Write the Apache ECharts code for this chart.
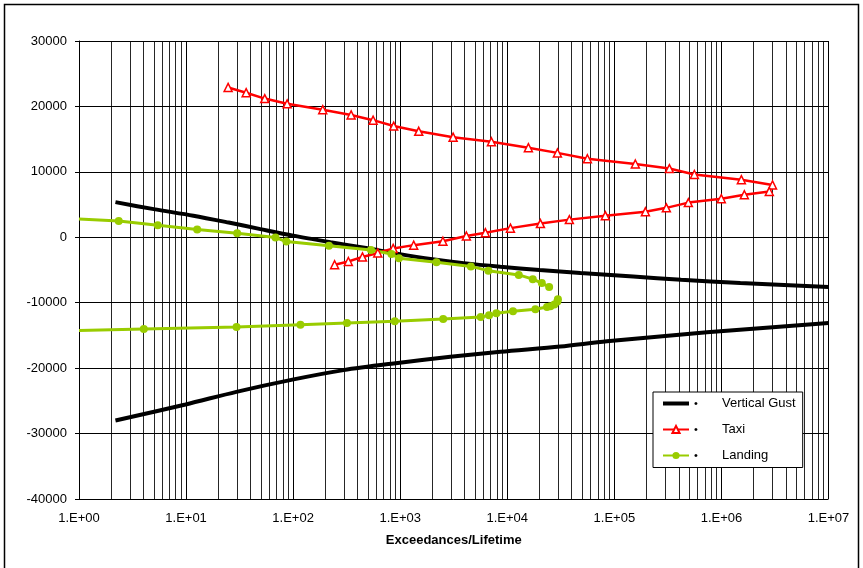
<!DOCTYPE html>
<html>
<head>
<meta charset="utf-8">
<script src="https://cdn.jsdelivr.net/npm/echarts@6/dist/echarts.min.js"></script>
<style>
html,body{margin:0;padding:0;background:#fff;}
#chart{width:863px;height:568px;}
</style>
</head>
<body>
<div id="chart"></div>
<script>
// ---- Data ----
const xTickLabels = ['1.E+00','1.E+01','1.E+02','1.E+03','1.E+04','1.E+05','1.E+06','1.E+07'];
const yTicks = [-40000,-30000,-20000,-10000,0,10000,20000,30000];
const legendNames = ['Vertical Gust','Taxi','Landing'];

const gustUpperX = [2.19, 5.0, 11.7, 25, 49.5, 100, 223, 480, 935, 2000, 3920, 8630, 20000, 48200, 150000, 420000, 1500000, 10000000];
const gustUpperY = [5370, 4300, 3300, 2250, 1250, 250, -750, -1650, -2500, -3350, -3950, -4500, -5000, -5450, -6000, -6500, -7000, -7600];
const gustLowerX = [2.19, 9.89, 29.5, 101, 296, 869, 2940, 8630, 31300, 85300, 733000, 10000000];
const gustLowerY = [-28000, -25550, -23620, -21720, -20300, -19280, -18270, -17500, -16700, -15900, -14530, -13100];

const taxiX = [24.7, 36.4, 54.3, 87.9, 189, 348, 558, 869, 1489, 3119, 7112, 15740, 29380, 55980, 157000, 326400, 558900, 1535000, 3000000,
               2800000, 1637000, 997000, 491000, 306000, 195000, 82400, 38000, 20400, 10700, 6240, 4150, 2505, 1336, 859, 617, 444, 328, 244];
const taxiY = [22900, 22100, 21200, 20400, 19500, 18700, 17900, 17000, 16200, 15300, 14600, 13700, 12900, 12000, 11200, 10500, 9600, 8800, 8000,
               7000, 6500, 5900, 5300, 4500, 3900, 3300, 2700, 2100, 1400, 700, 200, -600, -1200, -1700, -2400, -3000, -3700, -4200];

const landUpperX = [1, 2.35, 5.44, 12.7, 30.0, 68.4, 86.5, 216, 533, 828, 973, 2180, 4570, 6660, 12800, 17300, 21000, 24600];
const landUpperY = [2800, 2500, 1850, 1200, 600, -50, -650, -1300, -1950, -2550, -3200, -3800, -4450, -5100, -5750, -6400, -7000, -7600];
const landLowerX = [29700, 29380, 27540, 25300, 23500, 18300, 11300, 7910, 6760, 5650, 2520, 889, 318, 117, 29.6, 4.03, 1];
const landLowerY = [-9460, -9830, -10290, -10550, -10660, -11010, -11310, -11620, -11930, -12190, -12500, -12850, -13100, -13350, -13700, -14000, -14250];

// ---- Helpers ----
const zip = (xs, ys) => xs.map((x, i) => [x, ys[i]]);
const minorGrid = [];
for (let k = 0; k < 7; k++) for (let m = 2; m <= 9; m++) minorGrid.push({ xAxis: m * Math.pow(10, k) });

const FONT = '"Liberation Sans", Arial, sans-serif';
const RED = '#FF0000', GREEN = '#99CC00';

const chart = echarts.init(document.getElementById('chart'), null, { renderer: 'canvas' });
chart.setOption({
  animation: false,
  backgroundColor: '#fff',
  textStyle: { fontFamily: FONT, color: '#000' },
  grid: { left: 79, right: 34.5, top: 41, bottom: 69, containLabel: false },
  graphic: [{
    type: 'rect', silent: true, z: -10,
    shape: { x: 4.5, y: 4.5, width: 854, height: 600 },
    style: { fill: 'none', stroke: '#000', lineWidth: 1.5 }
  }],
  legend: {
    orient: 'vertical', left: 653, top: 392,
    padding: [5, 7, 5.5, 9], itemGap: 13, itemWidth: 26, itemHeight: 9,
    backgroundColor: '#fff', borderColor: '#000', borderWidth: 1,
    symbolKeepAspect: true,
    data: [
      { name: legendNames[0], icon: 'path://M0,0h26v4h-26z' },
      { name: legendNames[1] },
      { name: legendNames[2] }
    ],
    formatter: n => '{d|•}{t|' + n + '}',
    textStyle: {
      fontFamily: FONT, fontSize: 13, color: '#000',
      rich: { d: { width: 28, fontSize: 11, fontFamily: FONT }, t: { fontSize: 13, fontFamily: FONT } }
    }
  },
  xAxis: {
    type: 'log', logBase: 10, min: 1, max: 10000000, interval: 1, splitNumber: 7,
    name: 'Exceedances/Lifetime', nameLocation: 'middle', nameGap: 35,
    nameTextStyle: { fontFamily: FONT, fontSize: 13, fontWeight: 'bold', color: '#000' },
    axisLine: { show: true, lineStyle: { color: '#000', width: 1 } },
    axisTick: { show: true, length: 5, lineStyle: { color: '#000' } },
    axisLabel: { fontFamily: FONT, fontSize: 13, color: '#000', margin: 13,
      formatter: v => xTickLabels[Math.round(Math.log10(v))] },
    splitLine: { show: true, lineStyle: { color: '#000', width: 1 } }
  },
  yAxis: {
    type: 'value', min: yTicks[0], max: yTicks[yTicks.length - 1], interval: 10000,
    axisLine: { show: true, lineStyle: { color: '#000', width: 1 } },
    axisTick: { show: true, length: 4, lineStyle: { color: '#000' } },
    axisLabel: { fontFamily: FONT, fontSize: 13, color: '#000', margin: 12, formatter: v => String(v) },
    splitLine: { show: true, lineStyle: { color: '#000', width: 1 } }
  },
  series: [
    {
      name: 'Vertical Gust', type: 'line', data: zip(gustUpperX, gustUpperY),
      showSymbol: false, symbol: 'none', smooth: 0.3, z: 3,
      color: '#000', lineStyle: { color: '#000', width: 4 },
      markLine: {
        silent: true, z: 1, symbol: ['none', 'none'], label: { show: false },
        lineStyle: { color: '#000', width: 1, type: 'solid', opacity: 0.85 },
        emphasis: { disabled: true },
        data: minorGrid
      }
    },
    {
      name: 'Vertical Gust', type: 'line', data: zip(gustLowerX, gustLowerY),
      showSymbol: false, symbol: 'none', smooth: 0.3, z: 3,
      color: '#000', lineStyle: { color: '#000', width: 4 }
    },
    {
      name: 'Taxi', type: 'line', data: zip(taxiX, taxiY), z: 4,
      symbol: 'triangle', symbolSize: 8, showAllSymbol: true,
      color: RED, lineStyle: { color: RED, width: 2.5 },
      itemStyle: { color: '#fff', borderColor: RED, borderWidth: 1.5 }
    },
    {
      name: 'Landing', type: 'line', data: zip(landUpperX, landUpperY), z: 4,
      symbol: 'circle', symbolSize: v => (v[0] <= 1 ? 0 : 8), showAllSymbol: true,
      color: GREEN, lineStyle: { color: GREEN, width: 3 },
      itemStyle: { color: GREEN }
    },
    {
      name: 'Landing', type: 'line', data: zip(landLowerX, landLowerY), z: 4,
      symbol: 'circle', symbolSize: v => (v[0] <= 1 ? 0 : 8), showAllSymbol: true,
      color: GREEN, lineStyle: { color: GREEN, width: 3 },
      itemStyle: { color: GREEN }
    }
  ]
});
</script>
</body>
</html>
